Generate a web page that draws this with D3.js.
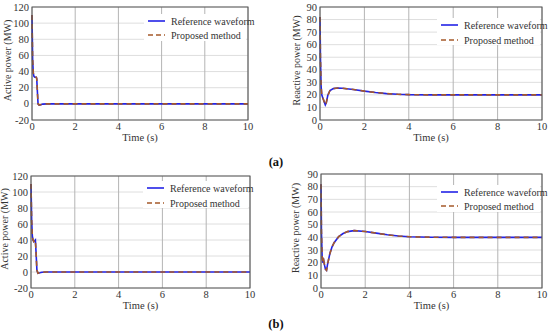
<!DOCTYPE html>
<html><head><meta charset="utf-8">
<script src="https://cdn.jsdelivr.net/npm/d3@7"></script>
<style>body{margin:0;background:#fff}svg{display:block}</style>
</head><body><svg id="c" width="550" height="332" font-family="'Liberation Serif', 'DejaVu Serif', serif"></svg>
<script>
// ---- data ----
const xTicks = [0, 2, 4, 6, 8, 10];
const activeTicks = [-20, 0, 20, 40, 60, 80, 100, 120];
const reactiveTicks = [0, 10, 20, 30, 40, 50, 60, 70, 80, 90];
const seriesNames = ["Reference waveform", "Proposed method"];

const tActiveA = [0, 0.01, 0.03, 0.06, 0.09, 0.13, 0.2, 0.22, 0.25, 0.28, 0.33, 0.4, 0.5, 0.7, 10];
const activeA_ref = [110, 90, 55, 38, 34, 33, 33, 31, 15, 0, -1.5, -1, -0.3, 0, 0];
const activeA_prop = [110, 90, 55, 38, 34, 33, 33, 31, 15, 0, -1.5, -1, -0.3, 0, 0];

const tReactiveA = [0, 0.02, 0.05, 0.08, 0.12, 0.18, 0.24, 0.28, 0.35, 0.45, 0.6, 0.8, 1.0, 1.5, 2, 2.5, 3, 3.5, 4, 5, 6, 10];
const reactiveA_ref = [82, 50, 27, 20, 18, 15, 12, 13.5, 19.5, 23.5, 25, 25.5, 25.3, 24.3, 23, 21.9, 21, 20.5, 20.2, 20, 20, 20];
const reactiveA_prop = [82, 50, 27, 20, 18, 15, 12, 13.5, 19.5, 23.5, 25, 25.5, 25.3, 24.3, 23, 21.9, 21, 20.5, 20.2, 20, 20, 20];

const tActiveB = [0, 0.01, 0.03, 0.06, 0.09, 0.13, 0.17, 0.2, 0.23, 0.27, 0.32, 0.4, 0.5, 0.7, 10];
const activeB_ref = [110, 95, 65, 45, 40, 38, 39, 40, 25, 2, -1.5, -1, -0.3, 0, 0];
const activeB_prop = [110, 95, 65, 45, 40, 38, 39, 40, 25, 2, -1.5, -1, -0.3, 0, 0];

const tReactiveB = [0, 0.02, 0.05, 0.08, 0.12, 0.16, 0.2, 0.25, 0.3, 0.4, 0.5, 0.6, 0.8, 1.0, 1.2, 1.5, 2, 2.5, 3, 3.5, 4, 5, 6, 10];
const reactiveB_ref = [82, 45, 25, 20, 22, 18, 15, 14, 19, 27, 32.5, 36, 40.5, 43, 44.5, 45.3, 44.6, 43.3, 42, 41, 40.5, 40.1, 40, 40];
const reactiveB_prop = [82, 45, 25, 20, 22, 18, 15, 14, 19, 27, 32.5, 36, 40.5, 43, 44.5, 45.3, 44.6, 43.3, 42, 41, 40.5, 40.1, 40, 40];

const panelLabels = ["(a)", "(b)"];

// ---- drawing ----
const FONT = "'Liberation Serif', 'DejaVu Serif', serif";
const svg = d3.select("#c");
const colRef = "#2323e6", colProp = "#a5592a", txtCol = "#333";

function panel(o) {
  const x = d3.scaleLinear().domain([0, 10]).range([o.x0, o.x1]);
  const y = d3.scaleLinear().domain(o.domain).range([o.yb, o.yt]);
  const g = svg.append("g").attr("font-family", FONT).attr("fill", txtCol);
  g.selectAll(".hg").data(o.yTicks).enter().append("line")
    .attr("x1", o.x0).attr("x2", o.x1).attr("y1", d => y(d)).attr("y2", d => y(d))
    .attr("stroke", "#dedede").attr("stroke-width", 1);
  g.selectAll(".vg").data(xTicks).enter().append("line")
    .attr("x1", d => x(d)).attr("x2", d => x(d)).attr("y1", o.yt).attr("y2", o.yb)
    .attr("stroke", "#b4b4b4").attr("stroke-width", 1);
  g.append("rect").attr("x", o.lx - 4).attr("y", o.ly - 7).attr("width", o.x1 - o.lx + 2).attr("height", 27)
    .attr("fill", "#fff");
  const line = (ts) => d3.line().x((d, i) => x(ts[i])).y(d => y(d));
  g.append("path").datum(o.ref).attr("d", line(o.t)).attr("fill", "none")
    .attr("stroke", colRef).attr("stroke-width", 1.6);
  g.append("path").datum(o.prop).attr("d", line(o.t)).attr("fill", "none")
    .attr("stroke", colProp).attr("stroke-width", 1.6).attr("stroke-dasharray", "5,4");
  g.append("rect").attr("x", o.x0).attr("y", o.yt).attr("width", o.x1 - o.x0).attr("height", o.yb - o.yt)
    .attr("fill", "none").attr("stroke", "#555").attr("stroke-width", 1);
  g.selectAll(".xl").data(xTicks).enter().append("text")
    .attr("x", d => x(d)).attr("y", o.yb + 10).attr("text-anchor", "middle")
    .attr("font-size", 10.5).text(d => d);
  g.selectAll(".yl").data(o.yTicks).enter().append("text")
    .attr("x", o.x0 - 3).attr("y", d => y(d) + 3.5).attr("text-anchor", "end")
    .attr("font-size", 10.5).text(d => d);
  g.append("text").attr("x", (o.x0 + o.x1) / 2).attr("y", o.yb + 21).attr("text-anchor", "middle")
    .attr("font-size", 10.5).text("Time (s)");
  g.append("text").attr("transform", `translate(${o.tx},${(o.yt + o.yb) / 2 - 3}) rotate(-90)`)
    .attr("text-anchor", "middle").attr("font-size", 10).text(o.title);
  [colRef, colProp].forEach((c, i) => {
    const yy = o.ly + i * o.lgap;
    g.append("line").attr("x1", o.lx).attr("x2", o.lx + 17).attr("y1", yy).attr("y2", yy)
      .attr("stroke", c).attr("stroke-width", 1.6).attr("stroke-dasharray", i ? "5,3" : null);
    g.append("text").attr("x", o.lx + 23).attr("y", yy + 3.5).attr("font-size", 10).text(seriesNames[i]);
  });
}

panel({x0: 32, x1: 248, yt: 7, yb: 120, domain: [-20, 120], yTicks: activeTicks, t: tActiveA,
  ref: activeA_ref, prop: activeA_prop, title: "Active power (MW)", tx: 11, lx: 148, ly: 21, lgap: 14});
panel({x0: 320, x1: 542, yt: 7, yb: 120, domain: [0, 90], yTicks: reactiveTicks, t: tReactiveA,
  ref: reactiveA_ref, prop: reactiveA_prop, title: "Reactive power (MW)", tx: 300, lx: 441, ly: 25, lgap: 15});
panel({x0: 31, x1: 250, yt: 176, yb: 288, domain: [-20, 120], yTicks: activeTicks, t: tActiveB,
  ref: activeB_ref, prop: activeB_prop, title: "Active power (MW)", tx: 8, lx: 147, ly: 188, lgap: 15});
panel({x0: 321, x1: 542, yt: 174, yb: 288, domain: [0, 90], yTicks: reactiveTicks, t: tReactiveB,
  ref: reactiveB_ref, prop: reactiveB_prop, title: "Reactive power (MW)", tx: 299, lx: 441, ly: 192, lgap: 14});

svg.append("text").attr("x", 276).attr("y", 166).attr("text-anchor", "middle").attr("font-family", FONT)
  .attr("font-size", 12.5).attr("font-weight", "bold").attr("fill", "#111").text(panelLabels[0]);
svg.append("text").attr("x", 276).attr("y", 328).attr("text-anchor", "middle").attr("font-family", FONT)
  .attr("font-size", 12.5).attr("font-weight", "bold").attr("fill", "#111").text(panelLabels[1]);
</script></body></html>
